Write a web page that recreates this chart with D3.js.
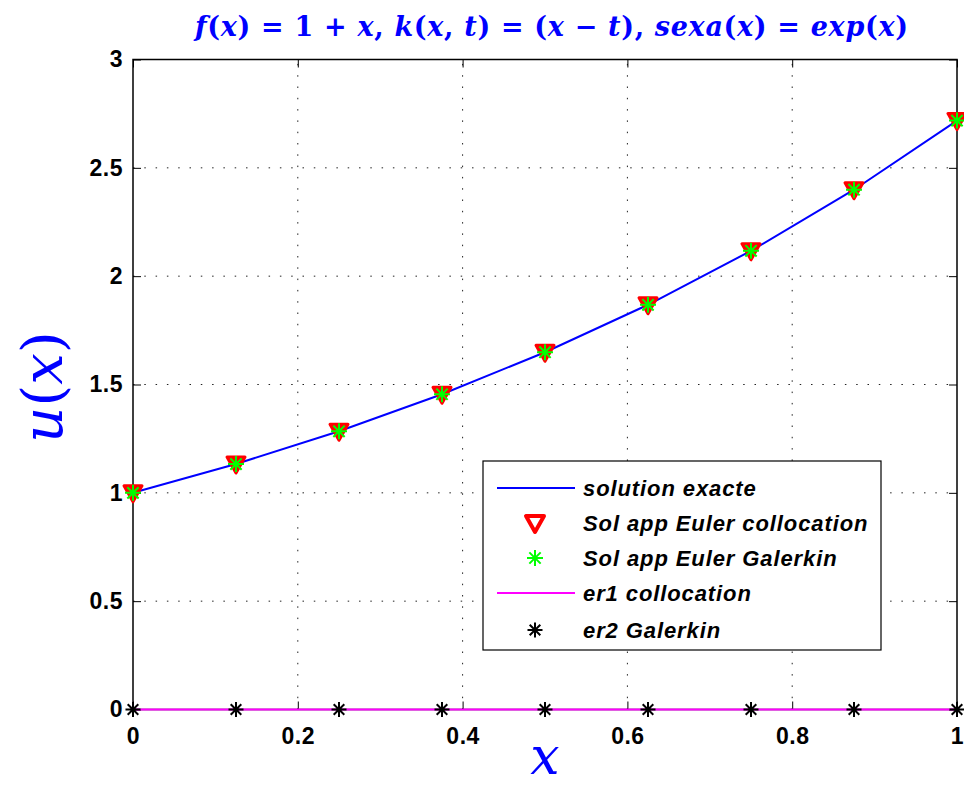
<!DOCTYPE html>
<html>
<head>
<meta charset="utf-8">
<script src="https://cdn.jsdelivr.net/npm/d3@7"></script>
<style>
  body { margin: 0; background: #fff; }
  svg { display: block; }
</style>
</head>
<body>
<div id="chart"></div>
<script>
(function() {
  "use strict";

  // nodes and values
  var xNodes = [0, 0.125, 0.25, 0.375, 0.5, 0.625, 0.75, 0.875, 1];
  var exactValues = [1, 1.133, 1.284, 1.455, 1.649, 1.868, 2.117, 2.399, 2.718];
  var collocValues = [1, 1.133, 1.284, 1.455, 1.649, 1.868, 2.117, 2.399, 2.718];
  var galerkinValues = [1, 1.133, 1.284, 1.455, 1.649, 1.868, 2.117, 2.399, 2.718];
  var er1Values = [0, 0, 0, 0, 0, 0, 0, 0, 0];
  var er2Values = [0, 0, 0, 0, 0, 0, 0, 0, 0];

  var xTicks = [0, 0.2, 0.4, 0.6, 0.8, 1];
  var yTicks = [0, 0.5, 1, 1.5, 2, 2.5, 3];
  var legendLabels = [
    "solution exacte",
    "Sol app Euler collocation",
    "Sol app Euler Galerkin",
    "er1 collocation",
    "er2 Galerkin"
  ];

  var width = 964, height = 787;
  var margin = { top: 59.5, right: 7, bottom: 77.5, left: 133 };

  var svg = d3.select("#chart").append("svg")
    .attr("width", width)
    .attr("height", height);

  var x = d3.scaleLinear().domain([0, 1]).range([margin.left, width - margin.right]);
  var y = d3.scaleLinear().domain([0, 3]).range([height - margin.bottom, margin.top]);

  function zip(vals) {
    return xNodes.map(function(d, i) { return [d, vals[i]]; });
  }

  /* ------- GRID -------*/
  var grid = svg.append("g").attr("class", "grid")
    .attr("stroke", "#222").attr("stroke-width", 1)
    .attr("stroke-dasharray", "1.5,9.8");
  grid.selectAll("line.gx").data(xTicks.slice(1, -1)).enter().append("line")
    .attr("x1", function(d) { return x(d); }).attr("x2", function(d) { return x(d); })
    .attr("y1", y(0)).attr("y2", y(3));
  grid.selectAll("line.gy").data(yTicks.slice(1, -1)).enter().append("line")
    .attr("y1", function(d) { return y(d); }).attr("y2", function(d) { return y(d); })
    .attr("x1", x(0)).attr("x2", x(1));

  /* ------- AXES -------*/
  var fmt = function(d) { return String(d); };
  var xAxis = svg.append("g")
    .attr("transform", "translate(0," + y(0) + ")")
    .call(d3.axisBottom(x).tickValues(xTicks).tickFormat(fmt).tickSizeInner(-8).tickSizeOuter(0).tickPadding(18));
  var xAxisTop = svg.append("g")
    .attr("transform", "translate(0," + y(3) + ")")
    .call(d3.axisTop(x).tickValues(xTicks).tickFormat("").tickSizeInner(-8).tickSizeOuter(0));
  var yAxis = svg.append("g")
    .attr("transform", "translate(" + x(0) + ",0)")
    .call(d3.axisLeft(y).tickValues(yTicks).tickFormat(fmt).tickSizeInner(-8).tickSizeOuter(0).tickPadding(10));
  var yAxisRight = svg.append("g")
    .attr("transform", "translate(" + x(1) + ",0)")
    .call(d3.axisRight(y).tickValues(yTicks).tickFormat("").tickSizeInner(-8).tickSizeOuter(0));

  [xAxis, xAxisTop, yAxis, yAxisRight].forEach(function(a) {
    a.select(".domain").remove();
    a.selectAll("line").attr("stroke", "#000").attr("stroke-width", 1);
    a.selectAll("text")
      .attr("fill", "#000")
      .style("font-family", "'Liberation Sans', Arial, sans-serif")
      .style("font-weight", "bold")
      .style("font-size", "23px")
      .style("letter-spacing", "0.5px");
  });
  xAxis.selectAll("text").attr("dy", "0.71em");

  svg.append("rect")
    .attr("x", x(0)).attr("y", y(3))
    .attr("width", x(1) - x(0)).attr("height", y(0) - y(3))
    .attr("fill", "none").attr("stroke", "#000").attr("stroke-width", 1.5);

  /* ------- SERIES -------*/
  var line = d3.line()
    .x(function(d) { return x(d[0]); })
    .y(function(d) { return y(d[1]); });

  svg.append("path").datum(zip(er1Values))
    .attr("d", line).attr("fill", "none")
    .attr("stroke", "#ff00ff").attr("stroke-width", 2);

  svg.append("path").datum(zip(exactValues))
    .attr("d", line).attr("fill", "none")
    .attr("stroke", "#0000ff").attr("stroke-width", 2);

  var tri = "M-9,-7L9,-7L0,9Z";
  function star(r) {
    var p = "";
    for (var k = 0; k < 4; k++) {
      var a = k * Math.PI / 4;
      var dx = r * Math.cos(a), dy = r * Math.sin(a);
      p += "M" + (-dx) + "," + (-dy) + "L" + dx + "," + dy;
    }
    return p;
  }

  svg.append("g").selectAll("path").data(zip(collocValues)).enter().append("path")
    .attr("transform", function(d) { return "translate(" + x(d[0]) + "," + y(d[1]) + ")"; })
    .attr("d", tri)
    .attr("fill", "#ff0000").attr("stroke", "#ff0000")
    .attr("stroke-width", 3).attr("stroke-linejoin", "round");

  svg.append("g").selectAll("path").data(zip(galerkinValues)).enter().append("path")
    .attr("transform", function(d) { return "translate(" + x(d[0]) + "," + y(d[1]) + ")"; })
    .attr("d", star(8))
    .attr("fill", "none").attr("stroke", "#00ff00").attr("stroke-width", 2);

  svg.append("g").selectAll("path").data(zip(er2Values)).enter().append("path")
    .attr("transform", function(d) { return "translate(" + x(d[0]) + "," + y(d[1]) + ")"; })
    .attr("d", star(7.5))
    .attr("fill", "none").attr("stroke", "#000").attr("stroke-width", 2);

  /* ------- LEGEND -------*/
  var lg = svg.append("g").attr("class", "legend");
  lg.append("rect")
    .attr("x", 483).attr("y", 461).attr("width", 398).attr("height", 189)
    .attr("fill", "#fff").attr("stroke", "#000").attr("stroke-width", 1.2);

  var rowY = [488, 523, 558, 593, 630];
  var rows = lg.selectAll("g.row").data(legendLabels).enter().append("g")
    .attr("transform", function(d, i) { return "translate(0," + rowY[i] + ")"; });

  rows.append("text")
    .attr("x", 583).attr("dy", "0.35em")
    .style("font-family", "'Liberation Sans', Arial, sans-serif")
    .style("font-weight", "bold").style("font-style", "italic")
    .style("font-size", "22px")
    .style("letter-spacing", "0.9px")
    .text(function(d) { return d; });

  rows.filter(function(d, i) { return i === 0 || i === 3; }).append("line")
    .attr("x1", 497).attr("x2", 575)
    .attr("stroke", function(d, i) { return i === 0 ? "#0000ff" : "#ff00ff"; })
    .attr("stroke-width", 2);
  rows.filter(function(d, i) { return i === 1; }).append("path")
    .attr("transform", "translate(535,0)").attr("d", tri)
    .attr("fill", "#fff").attr("stroke", "#ff0000")
    .attr("stroke-width", 4).attr("stroke-linejoin", "round");
  rows.filter(function(d, i) { return i === 2; }).append("path")
    .attr("transform", "translate(535,0)").attr("d", star(8))
    .attr("stroke", "#00ff00").attr("stroke-width", 2);
  rows.filter(function(d, i) { return i === 4; }).append("path")
    .attr("transform", "translate(535,0)").attr("d", star(7.5))
    .attr("stroke", "#000").attr("stroke-width", 2);

  /* ------- TITLES -------*/
  var serif = "'DejaVu Serif', 'Liberation Serif', serif";
  var titleParts = [
    ["f", 1], ["(", 0], ["x", 1], [") = 1 + ", 0], ["x", 1], [",   ", 0],
    ["k", 1], ["(", 0], ["x", 1], [", ", 0], ["t", 1], [") = (", 0], ["x", 1],
    [" \u2212 ", 0], ["t", 1], ["), ", 0], ["sexa", 1], ["(", 0], ["x", 1],
    [") = ", 0], ["exp", 1], ["(", 0], ["x", 1], [")", 0]
  ];
  var title = svg.append("text")
    .attr("x", 195).attr("y", 36)
    .attr("textLength", 713).attr("lengthAdjust", "spacing")
    .attr("fill", "#0000ff")
    .style("font-family", serif).style("font-weight", "bold")
    .style("font-size", "27px");
  title.selectAll("tspan").data(titleParts).enter().append("tspan")
    .style("font-style", function(d) { return d[1] ? "italic" : "normal"; })
    .text(function(d) { return d[0]; });

  svg.append("text")
    .attr("x", 545).attr("y", 774).attr("text-anchor", "middle")
    .attr("fill", "#0000ff")
    .style("font-family", serif).style("font-style", "italic")
    .style("font-size", "52px")
    .text("x");

  var yl = svg.append("text")
    .attr("transform", "translate(62,387) rotate(-90)")
    .attr("text-anchor", "middle")
    .attr("fill", "#0000ff")
    .style("font-family", serif)
    .style("font-size", "56px");
  yl.append("tspan").style("font-style", "italic").text("u");
  yl.append("tspan").text("(");
  yl.append("tspan").style("font-style", "italic").text("x");
  yl.append("tspan").text(")");
})();
</script>
</body>
</html>
